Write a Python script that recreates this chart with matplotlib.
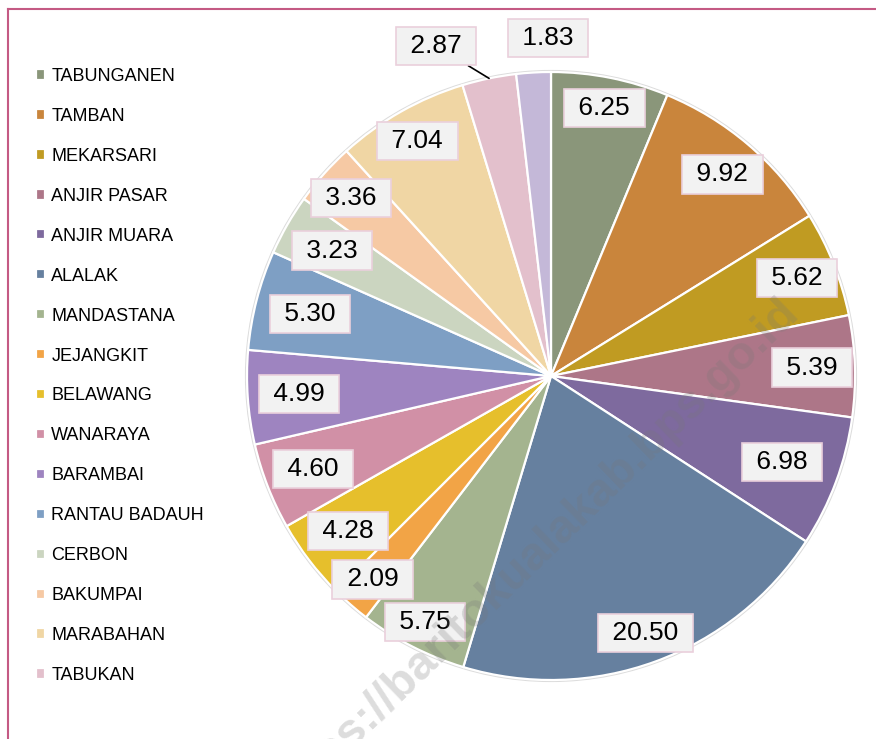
import numpy as np
import matplotlib.pyplot as plt
from matplotlib.lines import Line2D
from matplotlib.patches import Circle

plt.rcParams['font.family'] = ['Liberation Sans', 'DejaVu Sans']

# data
names = ['TABUNGANEN', 'TAMBAN', 'MEKARSARI', 'ANJIR PASAR', 'ANJIR MUARA',
         'ALALAK', 'MANDASTANA', 'JEJANGKIT', 'BELAWANG', 'WANARAYA',
         'BARAMBAI', 'RANTAU BADAUH', 'CERBON', 'BAKUMPAI', 'MARABAHAN',
         'TABUKAN']
values = [6.25, 9.92, 5.62, 5.39, 6.98, 20.50, 5.75, 2.09, 4.28, 4.60,
          4.99, 5.30, 3.23, 3.36, 7.04, 2.87, 1.83]
colors = ['#8a967a', '#c9853c', '#c09b22', '#ad7688', '#7e6a9e', '#66809f',
          '#a4b48f', '#f2a446', '#e6bf2c', '#d190a6', '#9e84c0', '#7e9fc4',
          '#cbd5c0', '#f6c9a4', '#f0d6a4', '#e3c0cc', '#c4b8d8']

# label distance from centre (fraction of radius)
label_r = [0.90, 0.87, 0.87, 0.86, 0.81, 0.90, 0.91, 0.89, 0.84, 0.84,
           0.83, 0.82, 0.83, 0.88, 0.89]

W, H = 876, 739
R = 304
cx, cy = 551, 376

fig = plt.figure(figsize=(W / 100, H / 100), dpi=100)
span = 1.25
ax = fig.add_axes([(cx - span * R) / W, (H - cy - span * R) / H,
                   2 * span * R / W, 2 * span * R / H])
ax.set_xlim(-span, span)
ax.set_ylim(-span, span)
ax.axis('off')

ax.add_patch(Circle((0, 0), 1.0, facecolor='none', edgecolor='#dcdcdc',
                    lw=3, zorder=0))
wedges, _ = ax.pie(values, colors=colors, startangle=90, counterclock=False,
                   radius=1.0, wedgeprops=dict(edgecolor='white', linewidth=1.6))

box = dict(boxstyle='square,pad=0.27', facecolor='#f2f2f2',
           edgecolor='#ead0dc', linewidth=1.2)
for i, (w, v) in enumerate(zip(wedges, values)):
    ang = np.deg2rad((w.theta1 + w.theta2) / 2)
    txt = ' %.2f ' % v
    if i < len(label_r):
        r = label_r[i]
        ax.text(r * np.cos(ang), r * np.sin(ang), txt, ha='center', va='center',
                fontsize=19, bbox=box, zorder=5)
    elif i == 15:
        ax.annotate(txt, xy=(np.cos(ang), np.sin(ang)),
                    xytext=((436 - cx) / R, (cy - 46) / R),
                    ha='center', va='center', fontsize=19, bbox=box,
                    arrowprops=dict(arrowstyle='-', color='black', lw=1.2,
                                    shrinkA=0, shrinkB=0), zorder=5)
    else:
        ax.text((548 - cx) / R, (cy - 38) / R, txt, ha='center', va='center',
                fontsize=19, bbox=box, zorder=5)

fig.legend(wedges[:len(names)], names, loc='upper left',
           bbox_to_anchor=(36 / W, 1 - 68 / H), frameon=False, fontsize=13,
           handlelength=0.5, handleheight=0.5, handletextpad=0.35,
           labelspacing=1.27, borderpad=0, borderaxespad=0)

# watermark
fig.text(800 / W, 1 - 314 / H, 'https://baritokualakab.bps.go.id',
         fontsize=34, fontweight='bold', color='#777777', alpha=0.25,
         rotation=44, rotation_mode='anchor', ha='right', va='baseline')

# frame
fig.add_artist(Line2D([8 / W, 1], [1 - 9 / H, 1 - 9 / H], color='#c45a84',
                      lw=1.5, transform=fig.transFigure))
fig.add_artist(Line2D([8 / W, 8 / W], [0, 1 - 9 / H], color='#c45a84',
                      lw=1.5, transform=fig.transFigure))

fig.savefig('out.png', dpi=100)
